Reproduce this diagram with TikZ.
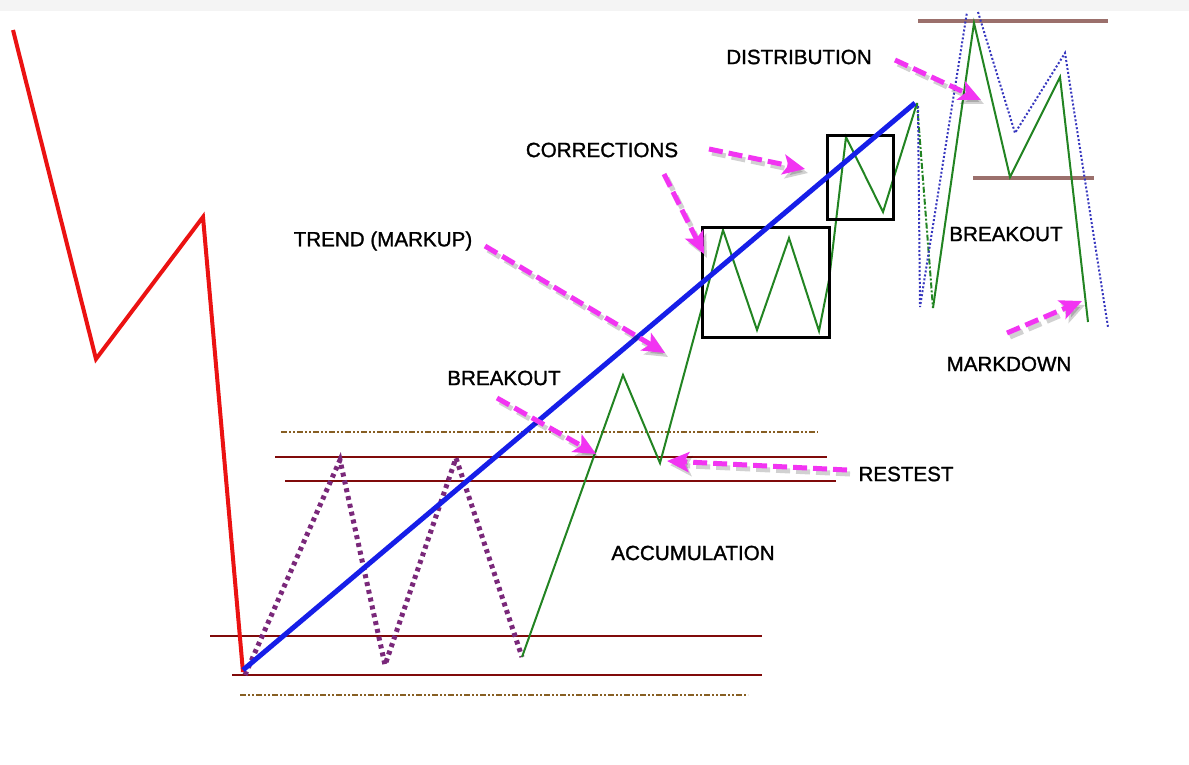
\documentclass[tikz,border=0pt]{standalone}
\usepackage{fontspec}
\setmainfont{Liberation Sans}
\newfontfamily\lblfont{Liberation Sans}[FakeBold=1.3]
\usepackage{tikz}
\usetikzlibrary{arrows.meta,positioning}

\definecolor{downred}{RGB}{235,18,18}
\definecolor{trendblue}{RGB}{22,30,232}
\definecolor{pricegreen}{RGB}{34,132,34}
\definecolor{accpurple}{RGB}{122,40,122}
\definecolor{levelred}{RGB}{128,10,10}
\definecolor{leveldash}{RGB}{135,95,35}
\definecolor{distbrown}{RGB}{155,112,108}
\definecolor{dotblue}{RGB}{55,55,190}
\definecolor{hintpink}{RGB}{242,52,242}
\definecolor{topband}{RGB}{244,244,244}

\tikzset{
lbl/.style = {font=\lblfont\fontsize{20.6}{24}\selectfont, inner sep=0pt},
hint/.style = {draw=hintpink, line width=5pt, dash pattern=on 14pt off 6pt,
               -{Stealth[length=22pt,width=20pt,inset=5pt]}},
hintshade/.style = {hint, draw=black, opacity=.18,
               transform canvas={shift={(3pt,-4pt)}}},
level/.style = {draw=levelred, line width=2pt},
leveldd/.style = {draw=leveldash, line width=2pt,
               dash pattern=on 6pt off 2pt on 2pt off 2pt on 2pt off 2pt}
}

\begin{document}
\begin{tikzpicture}[x=1pt, y=-1pt]
\useasboundingbox (0,0) rectangle (1189,764);
\fill[topband] (0,0) rectangle (1189,11);
% accumulation range
\draw[leveldd] (281,432) -- (818,432);
\draw[level]   (275,457) -- (827,457);
\draw[level]   (285,481) -- (836,481);
\draw[level]   (210,636) -- (762,636);
\draw[level]   (232,675) -- (762,675);
\draw[leveldd] (240,695) -- (748,695);
\draw[accpurple, line width=5pt, dash pattern=on 4pt off 4pt]
    (245,675) -- (340,460) -- (385,665) -- (456,458) -- (522,657);
% fall before the range
\draw[downred, line width=4pt, line join=miter]
    (13,30) -- (96,359) -- (203,217) -- (243,672);
% markup and corrections
\draw[pricegreen, line width=2pt]
    (522,657) -- (623,375) -- (660,463) -- (723,230) -- (757,330)
    -- (789,238) -- (819,331) -- (829,280) -- (846,137) -- (883,212)
    -- (917,103);
\draw[line width=3pt] (702,227) rectangle (829,337);
\draw[line width=3pt] (827,135) rectangle (893,219);
\draw[trendblue, line width=5pt] (243,670) -- (915,103);
% distribution and markdown
\draw[distbrown, line width=4pt] (918,21) -- (1108,21);
\draw[distbrown, line width=4pt] (973,178) -- (1094,178);
\draw[pricegreen, line width=2pt, dash pattern=on 6pt off 2pt on 2pt off 2pt]
    (917,103) -- (933,308);
\draw[pricegreen, line width=2pt]
    (933,308) -- (974,23) -- (1010,177) -- (1060,77) -- (1088,322);
\draw[dotblue, line width=2pt, dash pattern=on 2pt off 2pt]
    (918,106) -- (920,307) -- (967,12);
\draw[dotblue, line width=2pt, dash pattern=on 2pt off 2pt]
    (978,12) -- (1015,133) -- (1065,53) -- (1108,327);
%
\node[lbl] (distr)  at (799,57)  {DISTRIBUTION};
\node[lbl] (corr)   at (602,150) {CORRECTIONS};
\node[lbl] (trend)  at (383,241) {TREND (MARKUP)};
\node[lbl] (brklo)  at (504,378) {BREAKOUT};
\node[lbl] (retest) at (906,474) {RESTEST};
\node[lbl] (accum)  at (693,553) {ACCUMULATION};
\node[lbl] (brkhi)  at (1006,234) {BREAKOUT};
\node[lbl] (markd)  at (1009,364) {MARKDOWN};
%
\coordinate (d0) at (895,60);   \coordinate (d1) at (981,100);
\coordinate (c0) at (709,149);  \coordinate (c1) at (805,169);
\coordinate (e0) at (664,174);  \coordinate (e1) at (704,254);
\coordinate (t0) at (485,246);  \coordinate (t1) at (665,353);
\coordinate (b0) at (497,398);  \coordinate (b1) at (596,454);
\coordinate (r0) at (847,470);  \coordinate (r1) at (667,461);
\coordinate (m0) at (1007,333); \coordinate (m1) at (1082,301);
\foreach \s in {d,c,e,t,b,r,m}
{
    \draw[hintshade] (\s0) -- (\s1);
    \draw[hint] (\s0) -- (\s1);
}
\end{tikzpicture}
\end{document}
